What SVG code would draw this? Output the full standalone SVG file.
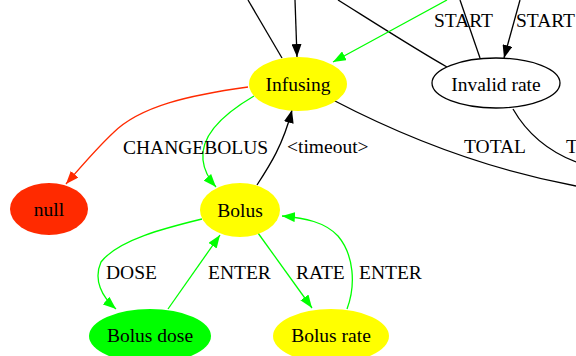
<svg xmlns="http://www.w3.org/2000/svg" width="576" height="356" viewBox="0 0 576 356">
<style>
.e{fill:none;stroke-width:1.3}
.k{stroke:#000}
.g{stroke:#00ff00}
.r{stroke:#ff2a00}
text{font-family:"Liberation Serif","Times New Roman",serif;font-size:19.5px;fill:#000}
.n text{text-anchor:middle}
</style>
<defs>
<marker id="ak" markerUnits="userSpaceOnUse" viewBox="0 0 13 10" refX="13" refY="5" markerWidth="13" markerHeight="10" orient="auto"><path d="M0,0L13,5L0,10z" fill="#000"/></marker>
<marker id="ag" markerUnits="userSpaceOnUse" viewBox="0 0 13 10" refX="13" refY="5" markerWidth="13" markerHeight="10" orient="auto"><path d="M0,0L13,5L0,10z" fill="#00ff00"/></marker>
<marker id="ar" markerUnits="userSpaceOnUse" viewBox="0 0 13 10" refX="13" refY="5" markerWidth="13" markerHeight="10" orient="auto"><path d="M0,0L13,5L0,10z" fill="#ff2a00"/></marker>
</defs>
<g id="connectors">
<path class="e k" d="M248,0 L282,58"/>
<path class="e k" d="M295,0 L297,57" marker-end="url(#ak)"/>
<path class="e k" d="M338,0 C370,20 420,52 447,67"/>
<path class="e g" d="M447,0 C410,20 370,42 333,62" marker-end="url(#ag)"/>
<path class="e k" d="M460,0 L480,58"/>
<path class="e k" d="M520,0 L504,58" marker-end="url(#ak)"/>
<path class="e k" d="M333,100 C400,135 480,168 576,186"/>
<path class="e k" d="M513,109 C525,130 545,150 576,162"/>
<path class="e r" d="M248,87 C190,95 140,106 113,133 C95,150 80,168 66,184" marker-end="url(#ar)"/>
<path class="e g" d="M254,96 C225,113 200,135 203,160 C204,170 208,178 216,187" marker-end="url(#ag)"/>
<path class="e k" d="M257,185 C270,165 283,145 292,110" marker-end="url(#ak)"/>
<path class="e g" d="M202,219 C165,228 118,240 101,262 C93,280 102,297 116,309" marker-end="url(#ag)"/>
<path class="e g" d="M168,309 L220,235" marker-end="url(#ag)"/>
<path class="e g" d="M258,233 L312,308" marker-end="url(#ag)"/>
<path class="e g" d="M347,309 C356,285 354,255 338,236 C325,222 305,218 282,216" marker-end="url(#ag)"/>
<text x="434" y="27">START</text>
<text x="516" y="27">START</text>
<text x="123" y="154">CHANGEBOLUS</text>
<text x="287" y="153">&lt;timeout&gt;</text>
<text x="464" y="153">TOTAL</text>
<text x="566" y="153">T</text>
<text x="106" y="279">DOSE</text>
<text x="208" y="279">ENTER</text>
<text x="296" y="279">RATE</text>
<text x="359" y="279">ENTER</text>
</g>
<g id="infusing" class="n"><ellipse cx="298" cy="84" rx="49" ry="27" fill="#ffff00"/><text x="298" y="91">Infusing</text></g>
<g id="invalid-rate" class="n"><ellipse cx="496" cy="83" rx="64" ry="25" fill="#fff" stroke="#000" stroke-width="1.3"/><text x="496" y="91">Invalid rate</text></g>
<g id="null" class="n"><ellipse cx="49" cy="209" rx="39" ry="26" fill="#ff2a00"/><text x="49" y="216">null</text></g>
<g id="bolus" class="n"><ellipse cx="240" cy="210" rx="40" ry="27" fill="#ffff00"/><text x="240" y="217">Bolus</text></g>
<g id="bolus-dose" class="n"><ellipse cx="150" cy="336" rx="61" ry="27" fill="#00ff00"/><text x="150" y="342">Bolus dose</text></g>
<g id="bolus-rate" class="n"><ellipse cx="331" cy="336" rx="58" ry="27" fill="#ffff00"/><text x="331" y="342">Bolus rate</text></g>
</svg>
